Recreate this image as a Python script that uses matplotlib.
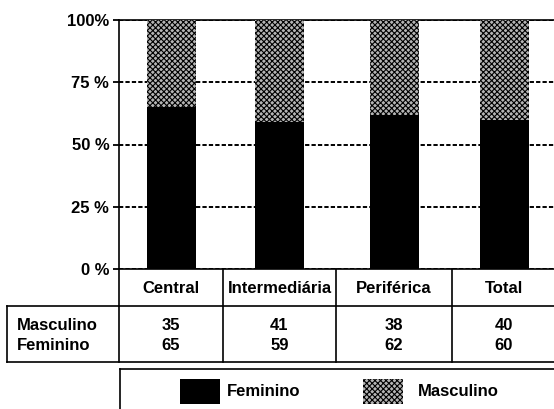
import matplotlib.pyplot as plt
from matplotlib.patches import Rectangle

# dados
categorias = ['Central', 'Intermediária', 'Periférica', 'Total']
masculino = [35, 41, 38, 40]
feminino = [65, 59, 62, 60]
yticks = [0, 25, 50, 75, 100]
ytick_labels = ['0 %', '25 %', '50 %', '75 %', '100%']

plt.rcParams['font.family'] = ['Liberation Sans', 'DejaVu Sans']
plt.rcParams['font.weight'] = 'bold'
plt.rcParams['hatch.linewidth'] = 0.8

W, H = 554, 409
fig = plt.figure(figsize=(W / 100, H / 100), dpi=100)

# layout (pixels)
x_axis = 119
col_edges = [119, 223, 336, 452, 556]
y_top, y_zero = 20, 269
y_head, y_tab, y_leg = 306, 362, 369
centros = [(a + b) / 2 for a, b in zip(col_edges[:-1], col_edges[1:])]
padrao = dict(facecolor='#b4b4b4', edgecolor='black', linewidth=0, hatch='xxxxxx')

ax = fig.add_axes([x_axis / W, 1 - y_zero / H, (W + 4 - x_axis) / W, (y_zero - y_top) / H])
ax.set_xlim(x_axis, W + 4)
ax.set_ylim(0, 100)
ax.bar(centros, feminino, width=49, color='black', label='Feminino', zorder=3)
ax.bar(centros, masculino, bottom=feminino, width=49, label='Masculino', zorder=3, **padrao)
ax.set_yticks(yticks)
ax.set_yticklabels(ytick_labels, fontsize=12)
ax.set_xticks([])
ax.yaxis.grid(True, color='black', linestyle=(0, (2.2, 1.1)), linewidth=1.4)
ax.set_axisbelow(True)
ax.tick_params(axis='y', direction='out', length=4, width=1.3, pad=3)
for s in ax.spines.values():
    s.set_linewidth(1.2)

# tabela e legenda
t = fig.add_axes([0, 0, 1, 1])
t.set_xlim(0, W)
t.set_ylim(H, 0)
t.axis('off')
fs = 12
kw = dict(color='black', linewidth=1.2)
# linha das categorias
t.plot([x_axis, W + 5], [y_head, y_head], **kw)
for xe in col_edges[1:-1]:
    t.plot([xe, xe], [y_zero, y_tab], **kw)
t.plot([x_axis, x_axis], [y_zero, y_tab], **kw)
for c, nome in zip(centros, categorias):
    t.text(c, (y_zero + y_head) / 2 + 1, nome, ha='center', va='center', fontsize=fs)
# valores
t.plot([7, 7], [y_head, y_tab], **kw)
t.plot([7, x_axis], [y_head, y_head], **kw)
t.plot([7, W + 5], [y_tab, y_tab], **kw)
y_m, y_f = 325, 346
t.text(17, y_m, 'Masculino', ha='left', va='center', fontsize=fs)
t.text(17, y_f, 'Feminino', ha='left', va='center', fontsize=fs)
for c, m, f in zip(centros, masculino, feminino):
    t.text(c, y_m, str(m), ha='center', va='center', fontsize=fs)
    t.text(c, y_f, str(f), ha='center', va='center', fontsize=fs)
# legenda
t.plot([120, W + 5], [y_leg, y_leg], **kw)
t.plot([120, 120], [y_leg, H + 5], **kw)
t.add_patch(Rectangle((180, 379), 40, 25, facecolor='black'))
t.text(227, 392, 'Feminino', ha='left', va='center', fontsize=fs)
t.add_patch(Rectangle((363, 379), 40, 25, **padrao))
t.text(418, 392, 'Masculino', ha='left', va='center', fontsize=fs)

fig.savefig('out.png', dpi=100)
